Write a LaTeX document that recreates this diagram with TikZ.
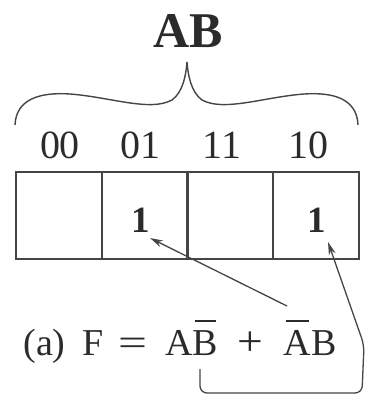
\documentclass[tikz,border=0pt]{standalone}
\usepackage{fontspec}
\usepackage{graphicx}
\setmainfont{Liberation Serif}
\usetikzlibrary{arrows.meta}
\definecolor{ink}{HTML}{2B2B2B}
\definecolor{linec}{HTML}{454545}
\newcommand{\ovbar}[1]{\setbox0=\hbox{#1}\rlap{\hskip2pt\rule[33pt]{\dimexpr\wd0-4pt\relax}{1.8pt}}\box0}
\tikzset{
  txt/.style={inner sep=0pt, text=ink, anchor=base},
  lbl/.style={txt, font=\fontsize{40}{40}\selectfont},
  frm/.style={txt, font=\fontsize{38}{38}\selectfont},
  one/.style={txt, font=\fontsize{37}{37}\selectfont\bfseries},
  cell/.style={draw=linec, line width=1.8pt, minimum width=86pt, minimum height=87pt, inner sep=0pt, anchor=north west},
  conn/.style={draw=linec, line width=1.3pt, -{Stealth[length=13pt,width=7pt]}},
  brace/.style={draw=linec, line width=1.4pt}
}
\begin{document}
\begin{tikzpicture}[x=1pt,y=-1pt]
\clip (0,0) rectangle (365,397);
\useasboundingbox (0,0) rectangle (365,397);
% title
\node[txt, font=\fontsize{50}{50}\selectfont\bfseries] (title) at (188,47) {AB};
% brace
\draw[brace] (15,125) .. controls (16,99) and (40,92) .. (70,94)
  .. controls (110,97) and (150,112) .. (172,100)
  .. controls (183,92) and (186,75) .. (187,62)
  .. controls (188,75) and (191,92) .. (202,100)
  .. controls (224,112) and (264,97) .. (304,94)
  .. controls (334,92) and (357,99) .. (358,125);
% column labels
\node[lbl] (l00) at (60,158) {00};
\node[lbl] (l01) at (140,158) {01};
\node[lbl] (l11) at (222,158) {11};
\node[lbl] (l10) at (308,158) {10};
% cells
\node[cell] (c00) at (15,171) {};
\node[cell] (c01) at (101,171) {};
\node[cell] (c11) at (186,171) {};
\node[cell] (c10) at (272,171) {};
% ones
\node[one] (o1) at (141,232) {1};
\node[one] (o2) at (317,232) {1};
% formula
\node[frm] (fa) at (44.5,355) {(a)};
\node[frm, anchor=base west] (fF) at (82,355) {F};
\node[frm] (feq) at (132.5,355) {\scalebox{1.35}[1]{=}};
\node[frm] (fAB) at (191.5,355) {A\ovbar{B}};
\node[frm] (fplus) at (250.5,355) {\scalebox{1.2}[1.1]{+}};
\node[frm] (fBA) at (310,355) {\ovbar{A}B};
% connectors
\coordinate (s1) at (287,306);
\coordinate (t1) at (150,238);
\coordinate (s2) at (200,369);
\coordinate (t2) at (328,242);
\draw[conn] (s1) -- (t1);
\draw[conn, rounded corners=7pt] (s2) -- (200,393) -- (362,393) -- (364,345) -- (t2);
\end{tikzpicture}
\end{document}
